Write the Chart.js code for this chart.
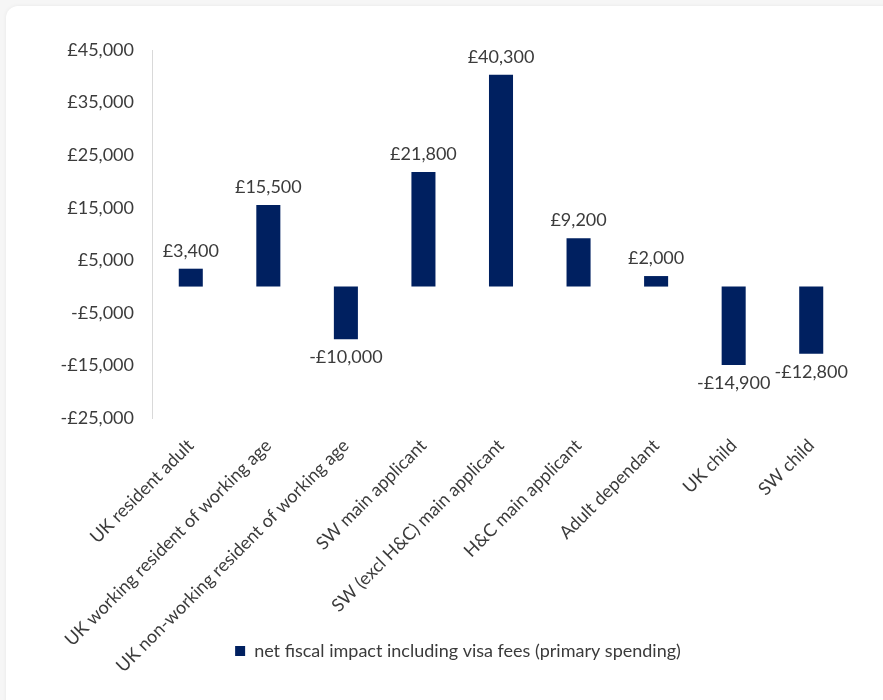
<!DOCTYPE html>
<html>
<head>
<meta charset="utf-8">
<script src="https://cdn.jsdelivr.net/npm/chart.js@4/dist/chart.umd.min.js"></script>
<style>
  html, body { margin: 0; padding: 0; background: #f6f6f6; }
  #card {
    position: absolute; left: 6px; top: 6px; width: 920px; height: 740px;
    background: #fff; border-radius: 12px; box-shadow: 0 0 4px rgba(0,0,0,0.06);
  }
  #myChart { position: absolute; left: 0; top: 0; }
</style>
</head>
<body>
<div id="card"></div>
<canvas id="myChart" width="883" height="700"></canvas>
<script>
const categories = [
  "UK resident adult",
  "UK working resident of working age",
  "UK non-working resident of working age",
  "SW main applicant",
  "SW (excl H&C) main applicant",
  "H&C main applicant",
  "Adult dependant",
  "UK child",
  "SW child",
];
const netImpact = [3400, 15500, -10000, 21800, 40300, 9200, 2000, -14900, -12800];
const seriesName = "net fiscal impact including visa fees (primary spending)";
const yMin = -25000;
const yMax = 45000;
const yStep = 10000;

const textColor = "#3b3b3b";
const barColor = "#002060";
const fontSpec = { family: "Lato", size: 18 };

function money(v) {
  return (v < 0 ? "-" : "") + "£" + Math.abs(v).toLocaleString("en-GB");
}

// value labels above positive bars, below negative ones
const barLabels = {
  id: "barLabels",
  afterDatasetsDraw(chart) {
    const ctx = chart.ctx;
    const meta = chart.getDatasetMeta(0);
    ctx.save();
    ctx.font = "18px Lato";
    ctx.fillStyle = textColor;
    ctx.textAlign = "center";
    meta.data.forEach((bar, i) => {
      const v = chart.data.datasets[0].data[i];
      if (v >= 0) {
        ctx.textBaseline = "bottom";
        ctx.fillText(money(v), bar.x, bar.y - 9);
      } else {
        ctx.textBaseline = "top";
        ctx.fillText(money(v), bar.x, bar.y + 9);
      }
    });
    ctx.restore();
  },
};

// tick text overhangs the axis boxes: let the labels draw out to the canvas edges
const labelRoom = {
  id: "labelRoom",
  afterLayout(chart) {
    chart.scales.x.bottom = chart.height;
    chart.scales.y.left = 0;
  },
};

window.onload = () => {
  const ctx = document.getElementById("myChart").getContext("2d");
  new Chart(ctx, {
    type: "bar",
    data: {
      labels: categories,
      datasets: [
        {
          label: seriesName,
          data: netImpact,
          backgroundColor: barColor,
          barPercentage: 0.31,
          categoryPercentage: 1,
        },
      ],
    },
    options: {
      responsive: false,
      animation: false,
      layout: { padding: { left: 66, right: 33, top: 50, bottom: 30 } },
      plugins: {
        tooltip: { enabled: false },
        legend: {
          position: "bottom",
          labels: {
            boxWidth: 10,
            boxHeight: 10,
            padding: 10,
            color: textColor,
            font: fontSpec,
          },
        },
      },
      scales: {
        x: {
          grid: { display: false },
          border: { display: false },
          ticks: {
            color: textColor,
            font: fontSpec,
            maxRotation: 45,
            minRotation: 45,
            autoSkip: false,
            padding: 9,
          },
          afterFit: (axis) => { axis.height = 214; },
        },
        y: {
          min: yMin,
          max: yMax,
          border: { display: true, color: "#d9d9d9", width: 1 },
          grid: {
            drawTicks: false,
            color: (c) => (c.tick && c.tick.value === 0 ? "#d9d9d9" : "rgba(0,0,0,0)"),
          },
          ticks: {
            stepSize: yStep,
            color: textColor,
            font: fontSpec,
            padding: 18,
            callback: (v) => money(v),
          },
          afterFit: (axis) => { axis.width = 86; },
        },
      },
    },
    plugins: [barLabels, labelRoom],
  });
};
</script>
</body>
</html>
